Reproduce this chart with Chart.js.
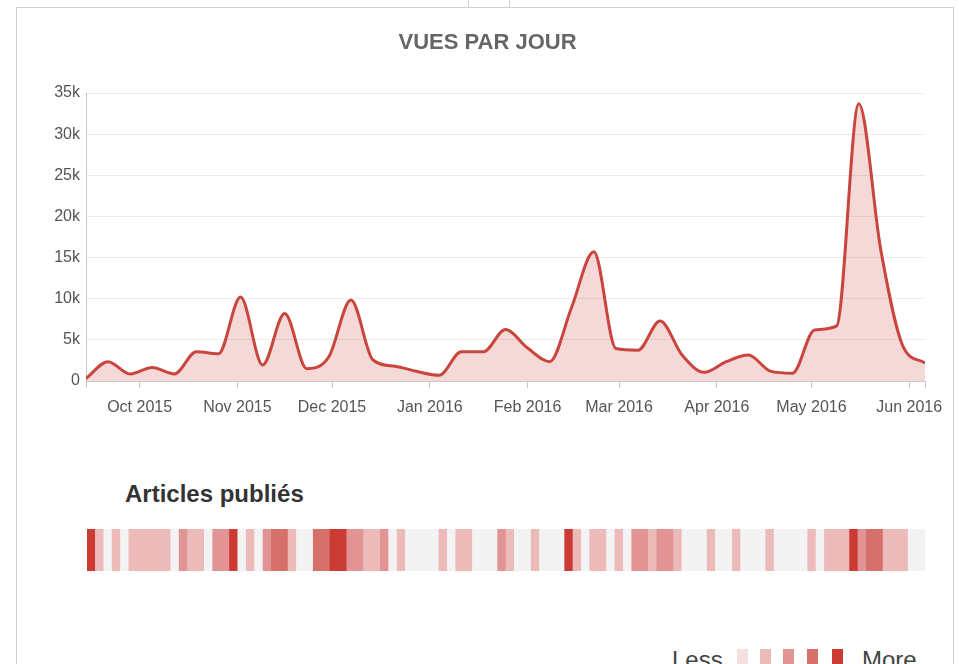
<!DOCTYPE html>
<html>
<head>
<meta charset="utf-8">
<script src="https://cdn.jsdelivr.net/npm/chart.js@4.4.1/dist/chart.umd.min.js"></script>
<style>
  html, body { margin: 0; padding: 0; background: #fff; }
  body { width: 959px; height: 664px; position: relative; overflow: hidden; font-family: "Liberation Sans", Arial, sans-serif; }
  .frame { position: absolute; left: 16px; top: 7px; width: 936px; height: 700px; border: 1px solid #d0d0d0; }
  .mark { position: absolute; top: 0; width: 1px; height: 7px; background: #d0d0d0; }
  #viewsChart { position: absolute; left: 0; top: 0; }
  #heatChart { position: absolute; left: 0; top: 520px; }
  .heat-title { position: absolute; left: 125px; top: 482px; font-size: 24px; line-height: 24px; font-weight: bold; color: #333; }
  .lg-text { position: absolute; top: 648px; font-size: 24px; line-height: 24px; color: #444; }
  .lg-box { position: absolute; top: 649px; width: 11px; height: 20px; }
</style>
</head>
<body>
<div class="frame"></div>
<div class="mark" style="left:468px"></div>
<div class="mark" style="left:509px"></div>
<canvas id="viewsChart" width="959" height="430"></canvas>
<div class="heat-title">Articles publiés</div>
<canvas id="heatChart" width="959" height="60"></canvas>
<div id="legend"></div>

<script>
// --- Data: weekly views ---
const viewDates = [
  "2015-09-14", "2015-09-21", "2015-09-28", "2015-10-05", "2015-10-12", "2015-10-19", "2015-10-26",
  "2015-11-02", "2015-11-09", "2015-11-16", "2015-11-23", "2015-11-30", "2015-12-07", "2015-12-14",
  "2015-12-21", "2015-12-28", "2016-01-04", "2016-01-11", "2016-01-18", "2016-01-25", "2016-02-01",
  "2016-02-08", "2016-02-15", "2016-02-22", "2016-02-29", "2016-03-07", "2016-03-14", "2016-03-21",
  "2016-03-28", "2016-04-04", "2016-04-11", "2016-04-18", "2016-04-25", "2016-05-02", "2016-05-09",
  "2016-05-16", "2016-05-23", "2016-05-30", "2016-06-06"
];
const viewCounts = [
  300, 2350, 850, 1650, 850, 3550, 3300,
  10200, 1950, 8200, 1500, 2950, 9850, 2550,
  1800, 1150, 700, 3550, 3550, 6250, 4000,
  2350, 9000, 15700, 3950, 3750, 7300, 3150,
  1050, 2350, 3150, 1200, 950, 6200, 6700,
  33700, 15900, 4250, 2200
];

// --- Axis ticks ---
const monthTicks = ["2015-10-01", "2015-11-01", "2015-12-01", "2016-01-01", "2016-02-01",
                    "2016-03-01", "2016-04-01", "2016-05-01", "2016-06-01"];
const monthLabels = ["Oct 2015", "Nov 2015", "Dec 2015", "Jan 2016", "Feb 2016",
                     "Mar 2016", "Apr 2016", "May 2016", "Jun 2016"];
const yTicks = [0, 5000, 10000, 15000, 20000, 25000, 30000, 35000];
const yLabels = ["0", "5k", "10k", "15k", "20k", "25k", "30k", "35k"];

// --- Data: articles published (intensity level per cell, 0 = none) ---
const articleLevels = [
  5, 2, 0, 2, 0, 2, 2, 2, 2, 2,
  0, 3, 2, 2, 0, 3, 3, 5, 0, 2,
  0, 3, 4, 4, 2, 0, 0, 4, 4, 5,
  5, 3, 3, 2, 2, 3, 0, 2, 0, 0,
  0, 0, 2, 0, 2, 2, 0, 0, 0, 3,
  2, 0, 0, 2, 0, 0, 0, 5, 2, 0,
  2, 2, 0, 2, 0, 3, 3, 2, 3, 3,
  2, 0, 0, 0, 2, 0, 0, 2, 0, 0,
  0, 2, 0, 0, 0, 0, 2, 0, 2, 2,
  2, 5, 3, 4, 4, 2, 2, 2, 0, 0
];
const levelColors = ["#f3f3f3", "#f6dfdf", "#edbaba", "#e29494", "#d6706a", "#cb3b33"];

const toDay = s => Date.parse(s) / 86400000;
const xMin = toDay(viewDates[0]);
const xMax = toDay(viewDates[viewDates.length - 1]);
const tickDays = monthTicks.map(toDay);

const font = "'Liberation Sans', Arial, sans-serif";

// --- Views chart ---
new Chart(document.getElementById("viewsChart"), {
  type: "line",
  data: {
    datasets: [{
      data: viewDates.map((d, i) => ({ x: toDay(d), y: viewCounts[i] })),
      borderColor: "#c9463e",
      borderWidth: 3,
      backgroundColor: "rgba(205,60,60,0.2)",
      fill: "origin",
      pointRadius: 0,
      cubicInterpolationMode: "monotone"
    }]
  },
  options: {
    responsive: false,
    animation: false,
    layout: { padding: { left: 50, right: 34, top: 0, bottom: 0 } },
    plugins: {
      legend: { display: false },
      tooltip: { enabled: false },
      title: {
        display: true,
        text: "VUES PAR JOUR",
        color: "#666",
        font: { family: font, size: 22, weight: "bold" },
        padding: { top: 30, bottom: 36.6 }
      }
    },
    scales: {
      x: {
        type: "linear",
        min: xMin,
        max: xMax,
        afterBuildTicks: s => { s.ticks = [xMin, ...tickDays, xMax].map(v => ({ value: v })); },
        afterFit: s => { s.height = 49; },
        grid: { drawOnChartArea: false, color: "#c8c8c8", tickLength: 7 },
        border: { color: "#c8c8c8" },
        ticks: {
          autoSkip: false, maxRotation: 0, minRotation: 0, padding: 10,
          color: "#555", font: { family: font, size: 16 },
          callback: v => { const i = tickDays.indexOf(v); return i >= 0 ? monthLabels[i] : ""; }
        }
      },
      y: {
        min: 0,
        max: 35000,
        afterBuildTicks: s => { s.ticks = yTicks.map(v => ({ value: v })); },
        afterFit: s => { s.width = 36; },
        grid: { color: "#ececec", drawTicks: false },
        border: { color: "#c8c8c8" },
        ticks: {
          padding: 6, color: "#555", font: { family: font, size: 16 },
          callback: v => yLabels[yTicks.indexOf(v)]
        }
      }
    }
  }
});

// --- Articles heat strip ---
new Chart(document.getElementById("heatChart"), {
  type: "bar",
  data: {
    labels: articleLevels.map((_, i) => i),
    datasets: [{
      data: articleLevels.map(() => 1),
      backgroundColor: articleLevels.map(l => levelColors[l]),
      borderWidth: 0,
      barPercentage: 1,
      categoryPercentage: 1
    }]
  },
  options: {
    responsive: false,
    animation: false,
    layout: { padding: { left: 87, right: 34, top: 9, bottom: 9 } },
    plugins: { legend: { display: false }, tooltip: { enabled: false } },
    scales: { x: { display: false }, y: { display: false, min: 0, max: 1 } }
  }
});

// --- Less / More legend ---
const legend = document.getElementById("legend");
const boxX = [737, 760, 783, 807, 832];
legend.innerHTML =
  '<div class="lg-text" style="left:672px">Less</div>' +
  boxX.map((x, i) => `<div class="lg-box" style="left:${x}px;background:${levelColors[i + 1]}"></div>`).join("") +
  '<div class="lg-text" style="left:862px">More</div>';
</script>
</body>
</html>
